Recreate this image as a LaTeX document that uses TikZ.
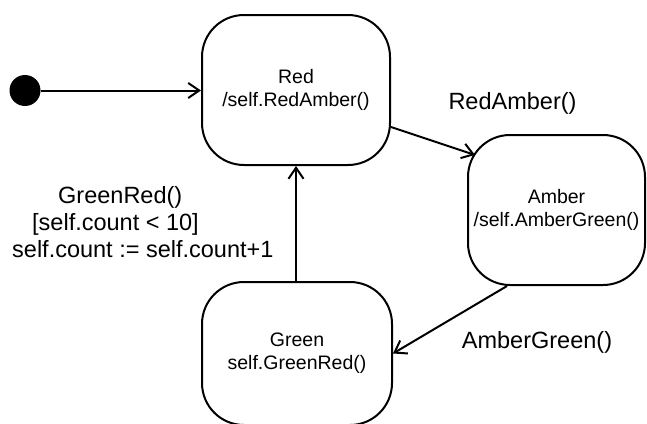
\documentclass[tikz,border=0pt]{standalone}
\usepackage{fontspec}
\setmainfont{Liberation Sans}
\usetikzlibrary{arrows.meta,calc}
\begin{document}
\begin{tikzpicture}[x=1pt,y=-1pt,
  state/.style={draw, line width=2pt, rounded corners=42pt, align=center, inner sep=0pt,
    font=\fontsize{19.5}{23}\selectfont},
  trans/.style={line width=2pt, -{Straight Barb[length=11pt,width=15pt]}},
  lbl/.style={font=\fontsize{23.5}{27}\selectfont, inner sep=0pt}]
\useasboundingbox (0,0) rectangle (647,423);
\node[state, minimum width=188pt, minimum height=150pt] (red) at (296,90) {Red\\/self.RedAmber()};
\node[state, minimum width=177pt, minimum height=150pt] (amber) at (556.5,210) {Amber\\/self.AmberGreen()};
\node[state, minimum width=190pt, minimum height=143pt] (green) at (297,353.5) {Green\\self.GreenRed()};
\node[circle, fill, minimum size=31pt, inner sep=0pt] (init) at (25,90.5) {};
\draw[trans] (init) -- (red.west |- init);
\draw[trans] ($(red.east)+(0,37)$) -- ($(amber.north west)+(8,21)$);
\draw[trans] ($(amber.south)+(-49.5,0)$) -- (green.east);
\draw[trans] (red.south |- green.north) -- (red.south);
\node[lbl, anchor=base] (lra) at (512.5,109) {RedAmber()};
\node[lbl, anchor=base] (lag) at (537,348) {AmberGreen()};
\node[lbl, anchor=north west, align=left] (lgr) at (12,186) {\hspace*{46pt}GreenRed()\\\hspace*{20pt}[self.count < 10]\\self.count := self.count+1};
\end{tikzpicture}
\end{document}
